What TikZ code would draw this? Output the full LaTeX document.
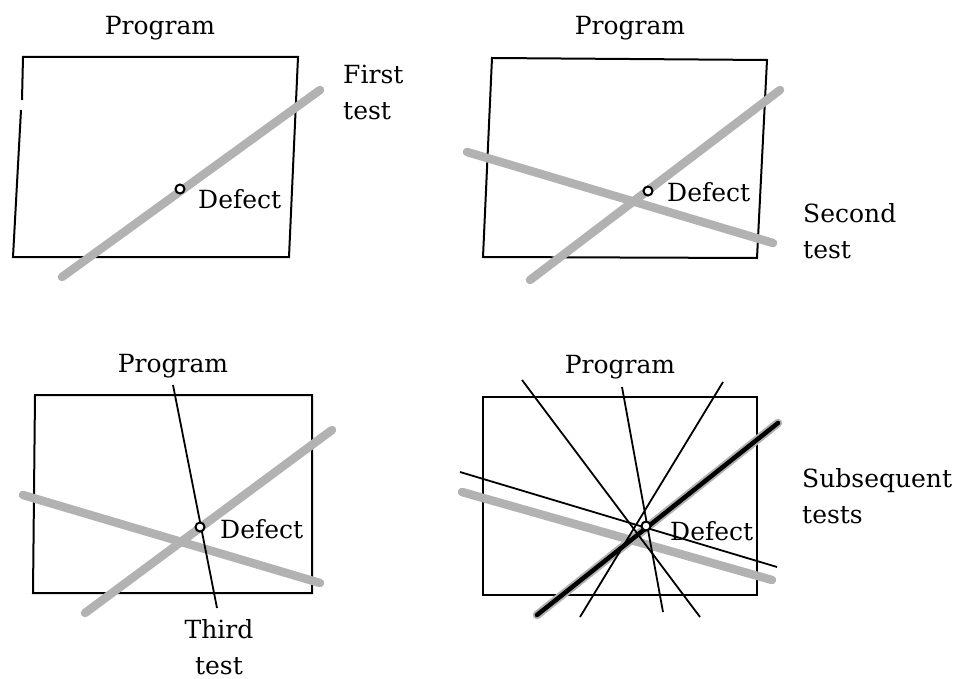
\documentclass[tikz,border=0pt]{standalone}
\usepackage{fontspec}
\setmainfont{DejaVu Serif}
\begin{document}
\begin{tikzpicture}[x=1pt,y=-1pt,
  lbl/.style={inner sep=0pt, font=\fontsize{25}{36}\selectfont},
  boxline/.style={line width=2pt, line join=miter},
  band/.style={line width=8.5pt, draw=gray!60, line cap=round},
  probe/.style={line width=1.8pt, draw=black},
  defectpt/.style={circle, draw, line width=2pt, fill=white, minimum size=9pt, inner sep=0pt}]
\useasboundingbox (0,0) rectangle (969,679);
% ---------- panel 1 ----------
\draw[boxline] (21,110) -- (13,257) -- (289,257) -- (298,57) -- (23,57) -- (22,100);
\draw[band] (62,277) -- (320,90);
\node[defectpt] (d1) at (180,189) {};
\node[lbl, anchor=base west] (t1) at (198,208) {Defect};
\node[lbl, anchor=base] (p1) at (160,35) {Program};
\node[lbl, anchor=west, align=left] (f1) at (343,92) {First\\test};
% ---------- panel 2 ----------
\draw[boxline] (492,58) -- (767,60) -- (757,258) -- (483,257) -- cycle;
\draw[band] (530,280) -- (780,90);
\draw[band] (467,152) -- (773,243);
\node[defectpt] (d2) at (648,191) {};
\node[lbl, anchor=base west] (t2) at (667,202) {Defect};
\node[lbl, anchor=base] (p2) at (630,35) {Program};
\node[lbl, anchor=west, align=left] (f2) at (803,231) {Second\\test};
% ---------- panel 3 ----------
\draw[boxline] (35,395) -- (312,395) -- (312,593) -- (33,593) -- cycle;
\draw[band] (85,613) -- (332,430);
\draw[band] (23,495) -- (320,583);
\draw[probe] (173,385) -- (217,608);
\node[defectpt] (d3) at (200,527) {};
\node[lbl, anchor=base west] (t3) at (220,538) {Defect};
\node[lbl, anchor=base] (p3) at (173,372) {Program};
\node[lbl, anchor=center, align=center] (f3) at (219,647) {Third\\test};
% ---------- panel 4 ----------
\draw[boxline] (483,397) -- (757,397) -- (757,595) -- (483,595) -- cycle;
\draw[band] (462,492) -- (772,580);
\draw[band] (537,615) -- (778,423);
\draw[probe] (522,380) -- (700,617);
\draw[probe] (622,387) -- (663,612);
\draw[probe] (723,382) -- (580,617);
\draw[probe] (460,472) -- (777,567);
\draw[line width=4.5pt, line cap=round] (537,615) -- (778,423);
\node[defectpt] (d4) at (646,526) {};
\node[lbl, anchor=base west] (t4) at (670,540) {Defect};
\node[lbl, anchor=base] (p4) at (620,373) {Program};
\node[lbl, anchor=west, align=left] (f4) at (802,496) {Subsequent\\tests};
\end{tikzpicture}
\end{document}
